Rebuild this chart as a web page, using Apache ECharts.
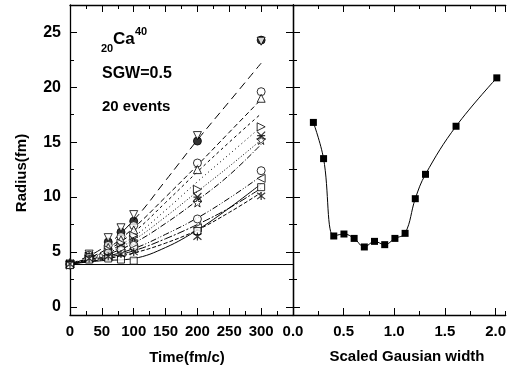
<!DOCTYPE html>
<html><head><meta charset="utf-8">
<script src="https://cdn.jsdelivr.net/npm/echarts@6/dist/echarts.min.js"></script>
<style>html,body{margin:0;padding:0;background:#fff}#c{width:509px;height:371px}</style>
</head><body><div id="c"></div>
<script>
// ---- data ----
const times = [0, 30, 60, 80, 100, 200, 300];
const sFilledCircle = [3.9, 4.7, 5.9, 6.8, 7.8, 15.1, 24.3];
const sDownTri      = [3.9, 4.8, 6.3, 7.2, 8.4, 15.6, 24.2];
const sCircleHi     = [3.9, 4.7, 5.6, 6.4, 7.4, 13.1, 19.6];
const sUpTri        = [3.9, 4.6, 5.4, 6.1, 7.0, 12.5, 19.0];
const sRightTri     = [3.8, 4.6, 5.2, 5.8, 6.5, 10.7, 16.4];
const sCross        = [3.9, 4.6, 5.0, 5.5, 6.1, 10.0, 15.6];
const sStar         = [4.0, 4.5, 4.8, 5.3, 5.9, 9.5, 15.2];
const sCircleLo     = [3.8, 4.5, 4.9, 5.2, 5.6, 8.0, 12.4];
const sLeftTri      = [3.9, 4.4, 4.6, 4.9, 5.3, 7.2, 11.7];
const sSquare       = [3.8, 4.3, 4.4, 4.3, 4.2, 6.9, 10.9];
const sAsterisk     = [3.9, 4.4, 4.6, 4.8, 5.0, 6.4, 10.1];

const fitTimes = [0, 50, 100, 150, 200, 250, 300];
const fit1  = [3.9, 5.3, 7.9, 11.5, 15.2, 18.7, 22.2];
const fit2  = [3.9, 5.0, 7.2, 10.0, 12.9, 15.9, 18.9];
const fit3  = [3.9, 4.9, 6.8, 9.5, 12.3, 15.0, 17.6];
const fit4  = [3.9, 4.8, 6.4, 8.8, 11.4, 13.9, 16.4];
const fit5  = [3.9, 4.7, 6.1, 8.2, 10.5, 12.8, 15.2];
const fit6  = [3.9, 4.6, 5.8, 7.6, 9.7, 12.0, 14.8];
const fit7  = [3.9, 4.5, 5.3, 6.6, 8.1, 9.9, 11.9];
const fit8  = [3.9, 4.2, 4.4, 5.4, 7.0, 9.0, 11.2];
const fit9  = [3.9, 4.4, 5.1, 6.2, 7.5, 9.0, 10.8];
const fit10 = [3.9, 4.3, 4.9, 5.8, 7.0, 8.6, 10.4];

const baseX = [0, 350];
const baseY = [3.85, 3.85];

const widths = [0.2, 0.3, 0.4, 0.5, 0.6, 0.7, 0.8, 0.9, 1.0, 1.1, 1.2, 1.3, 1.6, 2.0];
const radii  = [16.8, 13.5, 6.45, 6.63, 6.23, 5.45, 5.96, 5.66, 6.23, 6.69, 9.85, 12.07, 16.45, 20.86];

// ---- chart ----
const FONT = 'Liberation Sans, Arial, sans-serif';
const pair = (xs, ys) => xs.map((x, i) => [x, ys[i]]);
const chart = echarts.init(document.getElementById('c'), null, {renderer: 'canvas'});

// geometry: y from -0.75 (bottom, y=315) to 27.5 (top, y=5)
const PX = 310 / 28.25;
const ZERO_Y = 315 - 0.75 * PX;

const lineSt = {color: '#000', width: 1.3};
const tickSt = {color: '#000', width: 1};
const hiddenX = (g, max) => ({type: 'value', gridIndex: g, min: 0, max: max, show: false,
  axisLine: {onZero: false}, splitLine: {show: false}});
const hiddenY = (g, max) => ({type: 'value', gridIndex: g, min: 0, max: max, show: false,
  axisLine: {onZero: false}, splitLine: {show: false}});
const dataY = (g, pos) => ({type: 'value', gridIndex: g, position: pos, min: -0.75, max: 27.5,
  axisLine: {show: true, onZero: false, lineStyle: lineSt}, axisTick: {show: false},
  axisLabel: {show: false}, splitLine: {show: false}});
function tickX(g, pos, max, interval, len, labels, fmt, minor, lineShow) {
  return {type: 'value', gridIndex: g, position: pos, min: 0, max: max, interval: interval,
    axisLine: {show: lineShow, onZero: false, lineStyle: lineSt},
    axisTick: {show: true, inside: true, length: len, lineStyle: tickSt},
    minorTick: {show: minor, splitNumber: 2, length: 4, lineStyle: tickSt},
    splitLine: {show: false},
    axisLabel: {show: labels, showMaxLabel: false, margin: 9, color: '#000', fontFamily: FONT,
      fontWeight: 'bold', fontSize: 15, formatter: fmt || '{value}'}};
}
function tickY(g, pos, interval, len, labels) {
  return {type: 'value', gridIndex: g, position: pos, min: 0, max: 27.5, interval: interval,
    axisLine: {show: false, onZero: false},
    axisTick: {show: true, inside: true, length: len, lineStyle: tickSt},
    splitLine: {show: false},
    axisLabel: {show: labels, showMaxLabel: false, margin: 9, color: '#000', fontFamily: FONT,
      fontWeight: 'bold', fontSize: 16}};
}

const mk = {color: '#fff', borderColor: '#000', borderWidth: 1};
function markers(data, symbol, rot, style, size) {
  return {type: 'scatter', xAxisIndex: 0, yAxisIndex: 0, data: pair(times, data), symbol: symbol,
    symbolRotate: rot || 0, symbolSize: size || 8, itemStyle: style || mk, z: 5, silent: true};
}
function fit(data, dash) {
  return {type: 'line', xAxisIndex: 0, yAxisIndex: 0, data: pair(fitTimes, data), smooth: 0.4,
    showSymbol: false, symbol: 'none', lineStyle: {color: '#000', width: 1, type: dash}, z: 3, silent: true};
}

const starPath = 'path://M50,0 L61,35 L98,35 L68,57 L79,91 L50,70 L21,91 L32,57 L2,35 L39,35 Z';
const crossPath = 'path://M0,0L10,10M10,0L0,10M0,5L10,5';
const asterPath = 'path://M1,1L9,9M9,1L1,9M5,0L5,10';
const lineMk = {color: 'none', borderColor: '#000', borderWidth: 1.2};
const fmt1 = v => v.toFixed(1);

const option = {
  backgroundColor: '#fff',
  animation: false,
  grid: [
    {left: 70, top: 5, width: 223, height: 310},            // 0 data left
    {left: 293, top: 5, width: 214, height: 310},           // 1 data right
    {left: 70, top: 5, width: 223, height: 310},            // 2 x ticks left
    {left: 293, top: 5, width: 214, height: 310},           // 3 x ticks right
    {left: 70, top: 5, width: 223, height: ZERO_Y - 5},     // 4 y ticks left
    {left: 293, top: 5, width: 214, height: ZERO_Y - 5}     // 5 y ticks right
  ],
  xAxis: [
    hiddenX(0, 350),
    hiddenX(1, 2.1),
    tickX(2, 'bottom', 350, 50, 7, true, null, true, true),
    tickX(2, 'top', 350, 50, 7, false, null, true, true),
    tickX(3, 'bottom', 2.1, 0.5, 7, true, fmt1, false, true),
    tickX(3, 'top', 2.1, 0.5, 7, false, null, false, true),
    tickX(3, 'bottom', 2.1, 0.25, 4, false, null, false, false),
    tickX(3, 'top', 2.1, 0.25, 4, false, null, false, false),
    hiddenX(4, 350),
    hiddenX(5, 2.1)
  ],
  yAxis: [
    dataY(0, 'left'),
    dataY(0, 'right'),
    dataY(1, 'left'),
    hiddenY(2, 1),
    hiddenY(3, 1),
    tickY(4, 'left', 5, 7, true),
    tickY(4, 'left', 2.5, 4, false),
    tickY(4, 'right', 5, 7, false),
    tickY(4, 'right', 2.5, 4, false),
    tickY(5, 'left', 5, 7, false),
    tickY(5, 'left', 2.5, 4, false)
  ],
  series: [
    {type: 'line', xAxisIndex: 0, yAxisIndex: 0, data: pair(baseX, baseY), symbol: 'none',
      lineStyle: {color: '#000', width: 1}, z: 2, silent: true},
    fit(fit1, [8, 5]),
    fit(fit2, [5, 3]),
    fit(fit3, [3, 3]),
    fit(fit4, [1, 3]),
    fit(fit5, [1, 2]),
    fit(fit6, [6, 2, 1, 2]),
    fit(fit7, [6, 2, 1, 2, 1, 2]),
    fit(fit8, 'solid'),
    fit(fit9, [8, 2, 2, 2]),
    fit(fit10, [4, 2]),
    markers(sFilledCircle, 'circle', 0, {color: '#000', borderColor: '#000', borderWidth: 1}),
    markers(sDownTri, 'triangle', 180),
    markers(sCircleHi, 'circle'),
    markers(sUpTri, 'triangle'),
    markers(sRightTri, 'triangle', -90),
    markers(sCross, crossPath, 0, lineMk, 8),
    markers(sStar, starPath, 0, mk, 9),
    markers(sCircleLo, 'circle'),
    markers(sLeftTri, 'triangle', 90),
    markers(sSquare, 'rect', 0, mk, 7),
    markers(sAsterisk, asterPath, 0, lineMk, 8),
    {type: 'line', xAxisIndex: 1, yAxisIndex: 2, data: pair(widths, radii), smooth: 0.4,
      symbol: 'rect', symbolSize: 7, itemStyle: {color: '#000'},
      lineStyle: {color: '#000', width: 1}, z: 4, silent: true}
  ],
  graphic: [
    {type: 'text', left: 101, top: 43, style: {text: '20', font: 'bold 11px ' + FONT, fill: '#000'}},
    {type: 'text', left: 113, top: 31, style: {text: 'Ca', font: 'bold 17px ' + FONT, fill: '#000'}},
    {type: 'text', left: 135, top: 26, style: {text: '40', font: 'bold 11px ' + FONT, fill: '#000'}},
    {type: 'text', left: 102, top: 66, style: {text: 'SGW=0.5', font: 'bold 16px ' + FONT, fill: '#000'}},
    {type: 'text', left: 102, top: 99, style: {text: '20 events', font: 'bold 15px ' + FONT, fill: '#000'}},
    {type: 'text', x: 22, y: 173, rotation: Math.PI / 2,
      style: {text: 'Radius(fm)', font: 'bold 15px ' + FONT, fill: '#000', align: 'center', verticalAlign: 'middle'}},
    {type: 'text', x: 187, y: 358,
      style: {text: 'Time(fm/c)', font: 'bold 15px ' + FONT, fill: '#000', align: 'center', verticalAlign: 'middle'}},
    {type: 'text', x: 407, y: 357,
      style: {text: 'Scaled Gausian width', font: 'bold 15px ' + FONT, fill: '#000', align: 'center', verticalAlign: 'middle'}}
  ]
};
chart.setOption(option);
</script></body></html>
